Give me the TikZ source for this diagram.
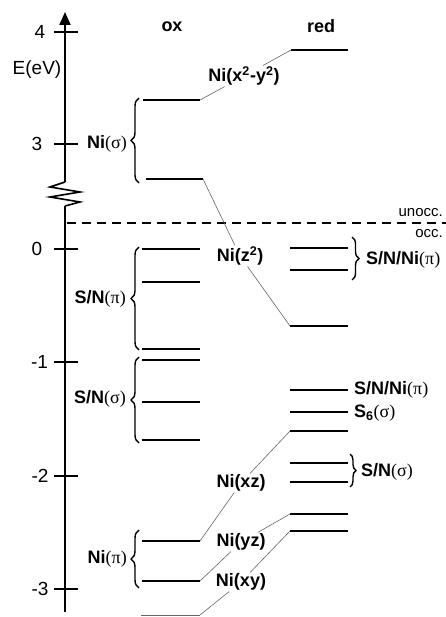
\documentclass[tikz,border=0pt]{standalone}
\usepackage{fontspec}
\setmainfont{Liberation Sans}
\newfontfamily\grfont{Liberation Serif}
\usetikzlibrary{arrows.meta,decorations.pathreplacing}
\newcommand\grsig{{\grfont\mdseries(σ)}}
\newcommand\grpi{{\grfont\mdseries(π)}}
\begin{document}
\begin{tikzpicture}[x=1pt,y=-1pt,
 lev/.style={line width=1.9pt},
 axisline/.style={line width=1.9pt},
 conn/.style={draw=black!60, line width=0.6pt},
 lab/.style={font=\fontsize{18}{20}\selectfont\bfseries, inner sep=1pt},
 num/.style={font=\fontsize{19}{20}\selectfont, inner sep=0pt},
 smalllab/.style={font=\fontsize{15}{16}\selectfont, inner sep=0pt},
 brc/.style={decorate, decoration={brace, amplitude=#1}, line width=1.4pt},
 brc/.default=8pt]
\useasboundingbox (0,0) rectangle (446,617);

% axis
\coordinate (atop) at (65,12);
\coordinate (abrkA) at (65,182);
\coordinate (abrkB) at (65,206);
\coordinate (abot) at (65,612);
\draw[axisline, -{Triangle[length=13pt,width=11pt]}] (abrkA) -- (atop);
\draw[axisline] (abot) -- (abrkB);
\draw[line width=1.6pt, line join=miter] (abrkA) -- (50,187) -- (80,192) -- (50,197) -- (80,202) -- (abrkB);

% ticks
\foreach \v/\y/\lx in {4/32/40,3/144/37,0/249/37,-1/362/39.5,-2/476/40,-3/589/40}{
  \draw[axisline] (54,\y) coordinate (tl\v) -- (78,\y) coordinate (tr\v);
  \node[num] (tk\v) at (\lx,\y) {\v};
}
\node[num] (ev) at (37,70) {E(eV)};

% headers
\node[lab, anchor=base] (hox) at (172,32) {ox};
\node[lab, anchor=base] (hred) at (321,33) {red};

% occupied / unoccupied
\coordinate (dl) at (67,223);
\coordinate (dr) at (446,223);
\draw[line width=1.9pt, dash pattern=on 9pt off 6pt] (dl) -- (dr);
\node[smalllab, anchor=east] (unocc) at (443,213) {unocc.};
\node[smalllab, anchor=east] (occ) at (443,234) {occ.};

% ox levels
\draw[lev] (143,100) coordinate (oAl) -- (200,100) coordinate (oA);
\draw[lev] (146,179) coordinate (oBl) -- (203,179) coordinate (oB);
\draw[lev] (142,249) coordinate (oCl) -- (200,249) coordinate (oC);
\draw[lev] (142,282) coordinate (oDl) -- (200,282) coordinate (oD);
\draw[lev] (142,349) coordinate (oEl) -- (200,349) coordinate (oE);
\draw[lev] (142,360) coordinate (oFl) -- (200,360) coordinate (oF);
\draw[lev] (142,402) coordinate (oGl) -- (200,402) coordinate (oG);
\draw[lev] (142,440) coordinate (oHl) -- (200,440) coordinate (oH);
\draw[lev] (142,541) coordinate (oIl) -- (200,541) coordinate (oI);
\draw[lev] (142,581) coordinate (oJl) -- (200,581) coordinate (oJ);
\draw[conn] (141,615) coordinate (oKl) -- (200,615) coordinate (oK);

% red levels
\draw[lev] (291,50) coordinate (rA) -- (348,50) coordinate (rAr);
\draw[lev] (290,248) coordinate (rB) -- (348,248) coordinate (rBr);
\draw[lev] (290,270) coordinate (rC) -- (348,270) coordinate (rCr);
\draw[lev] (290,326) coordinate (rD) -- (348,326) coordinate (rDr);
\draw[lev] (290,390) coordinate (rE) -- (348,390) coordinate (rEr);
\draw[lev] (290,412) coordinate (rF) -- (348,412) coordinate (rFr);
\draw[lev] (290,431) coordinate (rG) -- (348,431) coordinate (rGr);
\draw[lev] (290,463) coordinate (rH) -- (348,463) coordinate (rHr);
\draw[lev] (290,482) coordinate (rI) -- (348,482) coordinate (rIr);
\draw[lev] (290,514) coordinate (rJ) -- (348,514) coordinate (rJr);
\draw[lev] (290,531) coordinate (rK) -- (348,531) coordinate (rKr);

% left braces and labels
\draw[brc] (139,183) coordinate (bAb) -- (139,98) coordinate (bAt);
\node[lab, anchor=east] (niS) at (128,144) {Ni\grsig};
\draw[brc] (139,350) coordinate (bBb) -- (139,247) coordinate (bBt);
\node[lab, anchor=east] (snP) at (127,299) {S/N\grpi};
\draw[brc] (139,443) coordinate (bCb) -- (139,357) coordinate (bCt);
\node[lab, anchor=east] (snS) at (127,399) {S/N\grsig};
\draw[brc] (139,588) coordinate (bDb) -- (139,530) coordinate (bDt);
\node[lab, anchor=east] (niP) at (128,559) {Ni\grpi};

% right braces and labels
\draw[brc=7pt] (352,237) coordinate (bEt) -- (352,280) coordinate (bEb);
\node[lab, anchor=west] (snniA) at (365,260) {S/N/Ni\grpi};
\node[lab, anchor=west] (snniB) at (353,390) {S/N/Ni\grpi};
\node[lab, anchor=west] (s6) at (353,413) {S\textsubscript{6}\grsig};
\draw[brc=6pt] (350,454) coordinate (bFt) -- (350,487) coordinate (bFb);
\node[lab, anchor=west] (snR) at (360,472) {S/N\grsig};

% correlation connectors
\node[lab] (lxy2) at (244,76) {Ni(x\textsuperscript{2}-y\textsuperscript{2})};
\draw[conn] (oA) -- (lxy2) -- (rA);
\node[lab] (lz2) at (240,256) {Ni(z\textsuperscript{2})};
\draw[conn] (oB) -- (lz2) -- (rD);
\node[lab] (lxz) at (241,483) {Ni(xz)};
\draw[conn] (oI) -- (lxz) -- (rG);
\node[lab] (lyz) at (241,542) {Ni(yz)};
\draw[conn] (oJ) -- (lyz) -- (rJ);
\node[lab] (lxy) at (241,582) {Ni(xy)};
\draw[conn] (oK) -- (lxy) -- (rK);
\end{tikzpicture}
\end{document}
